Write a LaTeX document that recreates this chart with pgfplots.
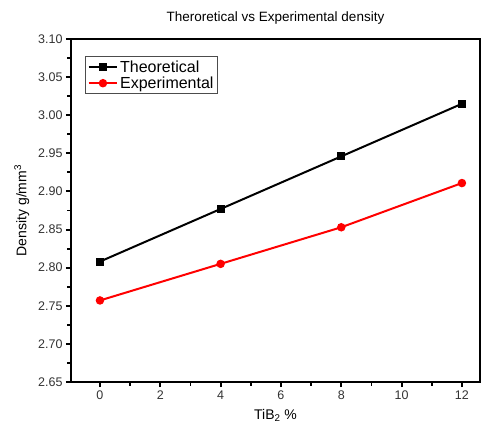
\documentclass[border=0pt]{standalone}
\usepackage{fontspec}
\setmainfont{Liberation Sans}
\usepackage{pgfplots}
\pgfplotsset{compat=1.18}
\begin{document}
\begin{tikzpicture}
\useasboundingbox (-71pt,-46pt) rectangle (410pt,382pt);
\begin{axis}[
    name=ax,
    at={(0pt,0pt)}, anchor=south west,
    scale only axis,
    width=409pt, height=343pt,
    xmin=-0.96, xmax=12.6,
    ymin=2.65, ymax=3.10,
    xtick={0,2,...,12},
    ytick={2.65,2.70,...,3.101},
    minor x tick num=1,
    minor y tick num=1,
    tick pos=left,
    tick align=outside,
    major tick length=5pt,
    minor tick length=3.5pt,
    every major tick/.append style={black, line width=2pt},
    every minor tick/.append style={black, line width=1.8pt},
    /pgf/number format/assume math mode=true,
    /pgf/number format/.cd, fixed, fixed zerofill, precision=2, /pgfplots/.cd,
    xticklabel style={font=\fontsize{12.5}{14}\selectfont, color=black!80, /pgf/number format/precision=0},
    yticklabel style={font=\fontsize{12.5}{14}\selectfont, color=black!80},
    title={Theroretical vs Experimental density},
    title style={font=\fontsize{13.5}{16}\selectfont, yshift=5pt},
    xlabel={TiB\textsubscript{2} \%},
    ylabel={Density g/mm\textsuperscript{3}},
    xlabel style={font=\fontsize{14}{16}\selectfont, yshift=-3pt},
    ylabel style={font=\fontsize{14}{16}\selectfont, yshift=2pt},
    legend style={at={(0.035,0.95)}, anchor=north west, font=\fontsize{16}{18}\selectfont,
        draw=black!70, line width=0.8pt, inner sep=2pt, row sep=-1pt},
    legend image code/.code={
        \draw[mark repeat=2, mark phase=2, #1] plot coordinates {(0cm,0cm) (0.5cm,0cm) (1.0cm,0cm)};},
    legend cell align=left,
]
\addplot[black, line width=2pt, mark=square*, mark size=3pt]
    coordinates {(0,2.808) (4,2.877) (8,2.946) (12,3.015)};
\addlegendentry{Theoretical}
\addplot[red, line width=2pt, mark=*, mark size=3.2pt]
    coordinates {(0,2.757) (4,2.805) (8,2.853) (12,2.911)};
\addlegendentry{Experimental}
\end{axis}
\draw[line width=2.8pt] (ax.south west) rectangle (ax.north east);
\end{tikzpicture}
\end{document}
